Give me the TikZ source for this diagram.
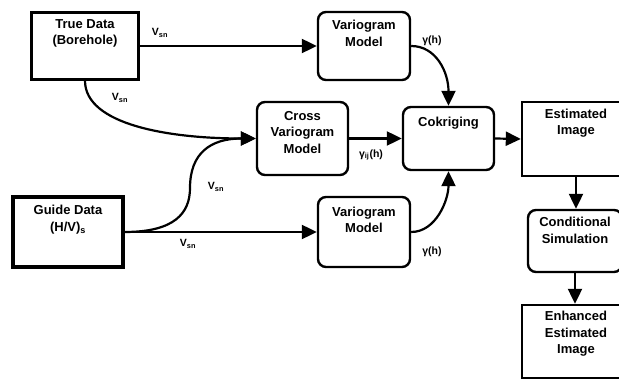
\documentclass[tikz,border=0pt]{standalone}
\usepackage{fontspec}
\setmainfont{Liberation Sans}
\usetikzlibrary{arrows.meta}
\tikzset{
  bx/.style={draw=black, line width=2.4pt, inner sep=0pt},
  rbx/.style={bx, rounded corners=8pt},
  txt/.style={inner sep=0pt, anchor=north, align=center, font=\fontsize{13}{16.5}\selectfont\bfseries},
  lbl/.style={inner sep=0pt, font=\fontsize{10.5}{12}\selectfont\bfseries},
  conn/.style={line width=2.2pt, -{Triangle[length=15pt,width=14pt]}},
}
\begin{document}
\begin{tikzpicture}[x=1pt,y=-1pt]
\useasboundingbox (0,0) rectangle (619,379);
% boxes
\node[bx, minimum width=107pt, minimum height=67pt] (td) at (85,46) {};
\node[rbx, minimum width=92pt, minimum height=68pt] (vma) at (364,46) {};
\node[rbx, minimum width=91pt, minimum height=73pt] (cv) at (302.5,138.5) {};
\node[rbx, minimum width=91pt, minimum height=63pt] (ck) at (448.5,138.5) {};
\node[bx, minimum width=108pt, minimum height=74pt] (ei) at (576,139) {};
\node[bx, line width=3.4pt, minimum width=110pt, minimum height=70pt] (gd) at (68,232) {};
\node[rbx, minimum width=92pt, minimum height=70pt] (vmb) at (364,232) {};
\node[rbx, minimum width=94pt, minimum height=62pt] (cs) at (575,241) {};
\node[bx, minimum width=108pt, minimum height=73pt] (ee) at (576,341.5) {};
% texts
\node[txt] (tdt) at ([yshift=-8pt]td.north) {True Data\\(Borehole)};
\node[txt] (vmat) at ([yshift=-9.5pt]vma.north) {Variogram\\Model};
\node[txt] (cvt) at ([yshift=-10pt]cv.north) {Cross\\Variogram\\Model};
\node[txt] (ckt) at ([yshift=-11pt]ck.north) {Cokriging};
\node[txt] (eit) at ([yshift=-8pt]ei.north) {Estimated\\Image};
\node[txt] (gdt) at ([yshift=-10pt]gd.north) {Guide Data\\(H/V)\textsubscript{s}};
\node[txt] (vmbt) at ([yshift=-11pt]vmb.north) {Variogram\\Model};
\node[txt] (cst) at ([yshift=-8.5pt]cs.north) {Conditional\\Simulation};
\node[txt] (eet) at ([yshift=-7.5pt]ee.north) {Enhanced\\Estimated\\Image};
% connectors
\draw[conn] (td.east) -- (vma.west);
\draw[conn] (td.south) .. controls (85,125) and (170,138.5) .. (cv.west);
\draw[conn] (gd.east) .. controls +(50,0) and +(0,25) .. (190,188) .. controls +(0,-35) and +(-45,0) .. (cv.west);
\draw[conn] (gd.east) -- (vmb.west);
\draw[conn] (cv.east) -- (ck.west);
\draw[conn] (vma.east) .. controls (436,46) and (448.5,72) .. (ck.north);
\draw[conn] (vmb.east) .. controls (436,232) and (448.5,200) .. (ck.south);
\draw[conn] (ck.east) -- (ei.west);
\draw[conn] (ei.south) -- (ei.south |- cs.north);
\draw[conn] (cs.south) -- (cs.south |- ee.north);
% labels
\node[lbl] (l1) at (160,33) {V\textsubscript{sn}};
\node[lbl] (l2) at (120,98) {V\textsubscript{sn}};
\node[lbl] (l3) at (216,187) {V\textsubscript{sn}};
\node[lbl] (l4) at (188,244) {V\textsubscript{sn}};
\node[lbl] (l5) at (432,41) {γ(h)};
\node[lbl] (l6) at (432,252) {γ(h)};
\node[lbl] (l7) at (371,155) {γ\textsubscript{ij}(h)};
\end{tikzpicture}
\end{document}
